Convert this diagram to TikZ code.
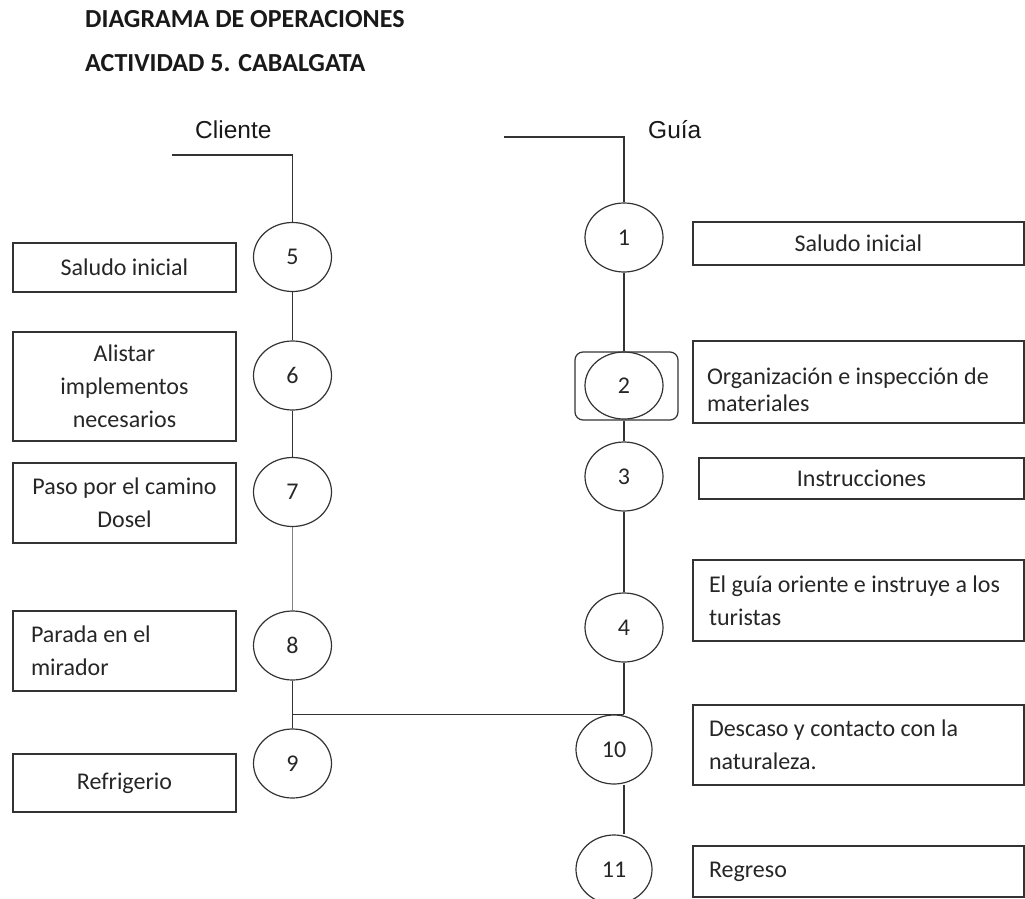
\documentclass[tikz,border=0pt]{standalone}
\usepackage{fontspec}
\setmainfont{Carlito}
\newfontfamily\headfont{Liberation Sans}
\usetikzlibrary{shapes.geometric}
\begin{document}
\begin{tikzpicture}[x=1pt,y=-1pt,
  opnode/.style={ellipse,draw=black!80,line width=1.2pt,minimum width=78pt,
    minimum height=69pt,inner sep=0pt,font=\fontsize{24}{28}\selectfont,text=black!85},
  textbox/.style={rectangle,draw=black!80,line width=1.4pt,inner sep=0pt,
    font=\fontsize{24}{33}\selectfont,text=black!85,align=center},
  leftbox/.style={textbox,align=flush left,inner xsep=16pt,text width=299pt},
  link/.style={draw=black!80,line width=1.2pt},
  title/.style={anchor=base west,inner sep=0pt,font=\bfseries\fontsize{26}{30}\selectfont,text=black!90},
  lane/.style={anchor=base west,inner sep=0pt,font=\headfont\fontsize{24.5}{28}\selectfont,text=black!90}
]
\useasboundingbox (0,0) rectangle (1025,899);

% titles
\node[title] (t1) at (85,28) {DIAGRAMA DE OPERACIONES};
\node[title] (t2) at (85,71) {ACTIVIDAD 5. CABALGATA};

% lane headings
\node[lane] (hc) at (195,138) {Cliente};
\node[lane] (hg) at (648,138) {Guía};
\coordinate (cin) at (172,155);
\coordinate (gin) at (504,137);

% client operations
\node[opnode] (c5) at (292.5,257) {5};
\node[opnode] (c6) at (292.5,375.5) {6};
\node[opnode] (c7) at (292.5,492) {7};
\node[opnode] (c8) at (292.5,645.5) {8};
\node[opnode] (c9) at (292.5,763.5) {9};

% guide operations
\node[opnode] (c1) at (624,237.5) {1};
\node[opnode,minimum height=67pt] (c2) at (624,385.5) {2};
\node[draw=black!80,line width=1.2pt,rounded corners=8pt,minimum width=103pt,
  minimum height=68pt,inner sep=0pt] (f2) at (626.5,386) {};
\node[opnode] (c3) at (624,476.5) {3};
\node[opnode] (c4) at (624,627.5) {4};
\node[opnode,minimum width=76pt] (c10) at (614,749.5) {10};
\node[opnode,minimum width=76pt] (c11) at (614,869.5) {11};

% client descriptions
\node[textbox,minimum width=223pt,minimum height=49pt] (b5) at (124.5,267.5) {Saludo inicial};
\node[textbox,minimum width=223pt,minimum height=109pt] (b6) at (124.5,386.5) {Alistar\\implementos\\necesarios};
\node[textbox,minimum width=223pt,minimum height=80pt] (b7) at (124.5,503) {Paso por el camino\\Dosel};
\node[leftbox,inner xsep=18pt,text width=187pt,minimum height=80pt] (b8) at (124.5,651) {Parada en el\\mirador};
\node[textbox,minimum width=223pt,minimum height=58pt] (b9) at (124.5,783) {Refrigerio};

% guide descriptions
\node[textbox,minimum width=331pt,minimum height=43pt] (b1) at (858.5,243.5) {Saludo inicial};
\node[leftbox,inner xsep=14pt,text width=303pt,minimum height=82pt,
  font=\fontsize{24}{27}\selectfont] (b2) at (858.5,382)
  {\rule{0pt}{32pt}Organización e inspección de\\materiales};
\node[textbox,minimum width=325pt,minimum height=41pt] (b3) at (861.5,478.5) {Instrucciones};
\node[leftbox,minimum height=81pt] (b4) at (858.5,600.5) {El guía oriente e instruye a los\\turistas};
\node[leftbox,minimum height=80pt] (b10) at (858.5,745) {Descaso y contacto con la\\naturaleza.};
\node[leftbox,minimum height=51pt] (b11) at (858.5,871.5) {Regreso};

% client flow
\draw[link] (cin) -| (c5.north);
\draw[link] (c5) -- (c6);
\draw[link] (c6) -- (c7);
\draw[link,draw=black!50] (c7) -- (c8);
\draw[link] (c8) -- (c9);

% guide flow
\draw[link] (gin) -| (c1.north);
\draw[link] (c1.south) -- (c1.south |- f2.north);
\draw[link] (c3.north |- f2.south) -- (c3.north);
\draw[link] (c3) -- (c4);
\coordinate (jn) at (c4.south |- c10.north);
\coordinate (jl) at (c8.south |- jn);
\draw[link] (c4.south) -- (jn);
\draw[link] (jl) -- (jn);
\coordinate (m10) at (c4.south |- c10.south);
\coordinate (m11) at (c4.south |- c11.north);
\draw[link] (m10) -- (m11);
\end{tikzpicture}
\end{document}
